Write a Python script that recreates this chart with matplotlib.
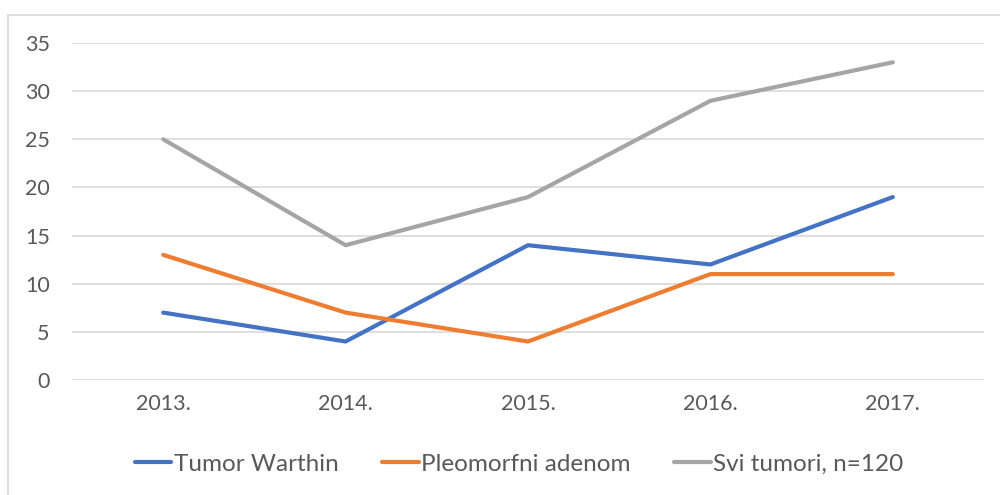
import matplotlib
matplotlib.use("Agg")
from matplotlib import pyplot as plt
from matplotlib.lines import Line2D

years = ["2013.", "2014.", "2015.", "2016.", "2017."]
warthin = [7, 4, 14, 12, 19]
pleomorfni = [13, 7, 4, 11, 11]
svi = [25, 14, 19, 29, 33]

labels = ["Tumor Warthin", "Pleomorfni adenom", "Svi tumori, n=120"]
colors = ["#4472C4", "#ED7D31", "#A5A5A5"]

plt.rcParams["font.family"] = ["Lato", "DejaVu Sans"]
text_color = "#595959"
fs = 15.5

fig = plt.figure(figsize=(10, 4.95), dpi=100)
ax = fig.add_axes([0.072, 0.2323, 0.912, 0.6808])

x = list(range(len(years)))
for vals, lab, col in zip([warthin, pleomorfni, svi], labels, colors):
    ax.plot(x, vals, color=col, lw=3, label=lab, solid_capstyle="round")

ax.set_xlim(-0.5, len(years) - 0.5)
ax.set_ylim(0, 35)
ax.set_yticks(range(0, 36, 5))
ax.set_xticks(x)
ax.set_xticklabels(years)
ax.grid(axis="y", color="#D9D9D9", lw=1.2)
ax.set_axisbelow(True)
for s in ax.spines.values():
    s.set_visible(False)
ax.tick_params(axis="both", length=0, labelsize=fs, colors=text_color)
ax.tick_params(axis="y", pad=16)
ax.tick_params(axis="x", pad=10)

# chart border (left and top edges)
fig.add_artist(Line2D([0.008, 0.008], [0, 1 - 15 / 495], transform=fig.transFigure,
                      color="#D9D9D9", lw=1.2))
fig.add_artist(Line2D([0.008, 1], [1 - 15 / 495, 1 - 15 / 495], transform=fig.transFigure,
                      color="#D9D9D9", lw=1.2))

leg = fig.legend(loc="center", bbox_to_anchor=(0.519, 1 - 464 / 495), ncol=3,
                 frameon=False, fontsize=17.5, handlelength=1.5, handletextpad=0.1,
                 columnspacing=1.8)
for t in leg.get_texts():
    t.set_color(text_color)

fig.savefig("out.png", dpi=100)
